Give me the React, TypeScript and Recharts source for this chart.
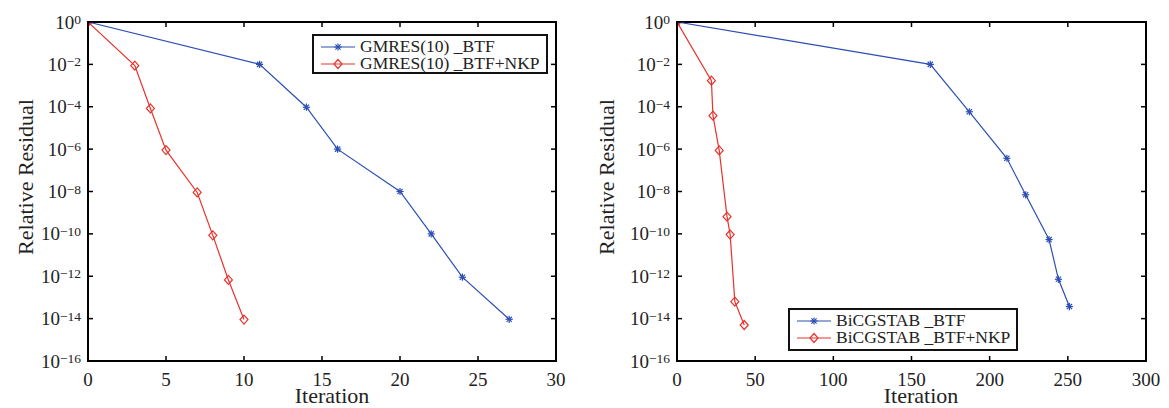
import React from 'react';
import { LineChart, Line, XAxis, YAxis, Legend } from 'recharts';

// GMRES(10) panel
const GM_BTF_ITER = [0, 11, 14, 16, 20, 22, 24, 27];
const GM_BTF_RES = [1, 1e-2, 9.5e-5, 1e-6, 1e-8, 1e-10, 9e-13, 9.3e-15];
const GM_NKP_ITER = [0, 3, 4, 5, 7, 8, 9, 10];
const GM_NKP_RES = [1, 8.7e-3, 8.3e-5, 9e-7, 9e-9, 8.5e-11, 6.7e-13, 9e-15];

// BiCGSTAB panel
const BI_BTF_ITER = [0, 162, 187, 211, 223, 238, 244, 251];
const BI_BTF_RES = [1, 1e-2, 5.8e-5, 3.7e-7, 7e-9, 5.4e-11, 7.2e-13, 3.7e-14];
const BI_NKP_ITER = [0, 22, 23, 27, 32, 34, 37, 43];
const BI_NKP_RES = [1, 1.7e-3, 3.8e-5, 8.7e-7, 6.5e-10, 9.3e-11, 6.3e-14, 5e-15];

const Y_TICKS = [1e-16, 1e-14, 1e-12, 1e-10, 1e-8, 1e-6, 1e-4, 1e-2, 1];
const GM_X_TICKS = [0, 5, 10, 15, 20, 25, 30];
const BI_X_TICKS = [0, 50, 100, 150, 200, 250, 300];

const BLUE = '#2c4fb3';
const RED = '#e8322a';
const INK = '#222';
const FONT = '"Liberation Serif", "Times New Roman", serif';
const TICK_LEN = 5;

// layout of each panel
const W = 580;
const H = 408;
const M_TOP = 22;
const M_BOTTOM = 47;
const M_LEFT = 88;
const PLOT_H = H - M_TOP - M_BOTTOM;
const FRAME = 2;

const toPoints = (xs: number[], ys: number[]) => xs.map((x, i) => ({ x, y: ys[i] }));

function StarDot(props: any) {
  const { cx, cy, index } = props;
  if (cx == null || cy == null) return null;
  const r = 3.6;
  const d = r * 0.72;
  return (
    <g key={`s${index}`} stroke={BLUE} strokeWidth={1.2}>
      <line x1={cx - r} y1={cy} x2={cx + r} y2={cy} />
      <line x1={cx} y1={cy - r} x2={cx} y2={cy + r} />
      <line x1={cx - d} y1={cy - d} x2={cx + d} y2={cy + d} />
      <line x1={cx - d} y1={cy + d} x2={cx + d} y2={cy - d} />
    </g>
  );
}

function DiamondDot(props: any) {
  const { cx, cy, index } = props;
  if (cx == null || cy == null) return null;
  const w = 4;
  const h = 4.5;
  return (
    <polygon
      key={`d${index}`}
      points={`${cx},${cy - h} ${cx + w},${cy} ${cx},${cy + h} ${cx - w},${cy}`}
      fill="none"
      stroke={RED}
      strokeWidth={1.2}
    />
  );
}

// y ticks: (x, y) sits on the left axis line; inward marks on the left and right edges
function YTick(props: any) {
  const { x, y, payload, plotSpan } = props;
  const e = Math.round(Math.log10(payload.value));
  const span = Number(plotSpan) || 468;
  return (
    <g>
      <line x1={x} y1={y} x2={x + TICK_LEN} y2={y} stroke="#000" strokeWidth={1.5} />
      <line x1={x + span} y1={y} x2={x + span - TICK_LEN} y2={y} stroke="#000" strokeWidth={1.5} />
      <text x={x - 7} y={y + 6.5} textAnchor="end" fontFamily={FONT} fontSize={19} fill={INK}>
        <tspan>10</tspan>
        <tspan fontSize={13.5} dy={-4.5}>{e === 0 ? '0' : `\u2212${-e}`}</tspan>
      </text>
    </g>
  );
}

// x ticks: (x, y) sits on the bottom axis line; inward marks on the bottom and top edges
function XTick(props: any) {
  const { x, y, payload } = props;
  return (
    <g>
      <line x1={x} y1={y} x2={x} y2={y - TICK_LEN} stroke="#000" strokeWidth={1.5} />
      <line x1={x} y1={y - PLOT_H} x2={x} y2={y - PLOT_H + TICK_LEN} stroke="#000" strokeWidth={1.5} />
      <text x={x} y={y + 25} textAnchor="middle" fontFamily={FONT} fontSize={19} fill={INK}>
        {payload.value}
      </text>
    </g>
  );
}

// axis title placed at fixed local coords (ignores props injected by recharts)
function AxisTitle({ tx, ty, turn, text }: { tx: number; ty: number; turn?: boolean; text: string }) {
  return (
    <text
      x={tx}
      y={ty}
      transform={turn ? `rotate(-90, ${tx}, ${ty})` : undefined}
      textAnchor="middle"
      fontFamily={FONT}
      fontSize={22}
      fill={INK}
    >
      {text}
    </text>
  );
}

function LegendBox(props: any) {
  const { payload, boxWidth, boxHeight } = props;
  return (
    <div
      style={{
        width: boxWidth,
        height: boxHeight,
        boxSizing: 'border-box',
        border: '2px solid #111',
        background: '#fff',
        padding: '2px 0 0 6px',
        fontFamily: FONT,
        fontSize: 17.5,
        color: INK,
        lineHeight: '17px',
      }}
    >
      {(payload || []).map((entry: any, i: number) => {
        const star = entry.color === BLUE;
        return (
          <div key={i} style={{ display: 'flex', alignItems: 'center', height: 17, whiteSpace: 'pre' }}>
            <svg width={36} height={12} style={{ marginRight: 4 }}>
              <line x1={1} y1={6} x2={35} y2={6} stroke={entry.color} strokeWidth={1.2} />
              {star ? <StarDot cx={18} cy={6} index={0} /> : <DiamondDot cx={18} cy={6} index={0} />}
            </svg>
            <span>{entry.value}</span>
          </div>
        );
      })}
    </div>
  );
}

type PanelProps = {
  left: number;
  xMax: number;
  xTicks: number[];
  btf: { x: number; y: number }[];
  nkp: { x: number; y: number }[];
  btfName: string;
  nkpName: string;
  legendPos: { left: number; top: number; width: number; height: number };
  yLabelX: number;
  marginRight: number;
};

function Panel(p: PanelProps) {
  const axisLine = { stroke: '#000', strokeWidth: 2 };
  const plotW = W - M_LEFT - p.marginRight;
  return (
    <div style={{ position: 'absolute', left: p.left, top: 0, width: W, height: H }}>
      {/* box around the plot area (top and right edges) */}
      <div
        style={{
          position: 'absolute',
          left: M_LEFT - FRAME / 2,
          top: M_TOP - FRAME / 2,
          width: plotW + FRAME,
          height: PLOT_H + FRAME,
          boxSizing: 'border-box',
          border: `${FRAME}px solid #000`,
          pointerEvents: 'none',
        }}
      />
      <LineChart width={W} height={H} margin={{ top: M_TOP, right: p.marginRight, bottom: M_BOTTOM - 30, left: M_LEFT - 60 }}>
        <XAxis
          type="number"
          dataKey="x"
          domain={[0, p.xMax]}
          ticks={p.xTicks}
          interval={0}
          allowDataOverflow
          height={30}
          tickSize={0}
          tickMargin={0}
          tickLine={false}
          tick={<XTick />}
          axisLine={axisLine}
          label={<AxisTitle tx={332} ty={403} text="Iteration" />}
        />
        <YAxis
          type="number"
          scale="log"
          domain={[1e-16, 1]}
          ticks={Y_TICKS}
          interval={0}
          allowDataOverflow
          width={60}
          tickSize={0}
          tickMargin={0}
          tickLine={false}
          tick={<YTick plotSpan={plotW} />}
          axisLine={axisLine}
          label={<AxisTitle tx={p.yLabelX} ty={177} turn text="Relative Residual" />}
        />
        <Legend
          layout="horizontal"
          verticalAlign="middle"
          align="center"
          wrapperStyle={{ left: p.legendPos.left, top: p.legendPos.top, width: p.legendPos.width, height: p.legendPos.height }}
          content={(lp: any) => (
            <LegendBox payload={lp.payload} boxWidth={p.legendPos.width} boxHeight={p.legendPos.height} />
          )}
        />
        <Line
          data={p.btf}
          dataKey="y"
          name={p.btfName}
          stroke={BLUE}
          strokeWidth={1.2}
          dot={(dp: any) => <StarDot {...dp} key={`s${dp.index}`} />}
          activeDot={false}
          isAnimationActive={false}
        />
        <Line
          data={p.nkp}
          dataKey="y"
          name={p.nkpName}
          stroke={RED}
          strokeWidth={1.2}
          dot={(dp: any) => <DiamondDot {...dp} key={`d${dp.index}`} />}
          activeDot={false}
          isAnimationActive={false}
        />
      </LineChart>
    </div>
  );
}

export default function App() {
  return (
    <div style={{ position: 'absolute', left: 0, top: 0, width: 1169, height: 408, background: '#fff' }}>
      <Panel
        left={0}
        xMax={30}
        xTicks={GM_X_TICKS}
        btf={toPoints(GM_BTF_ITER, GM_BTF_RES)}
        nkp={toPoints(GM_NKP_ITER, GM_NKP_RES)}
        btfName="GMRES(10) _BTF"
        nkpName="GMRES(10) _BTF+NKP"
        legendPos={{ left: 312, top: 34, width: 236, height: 40 }}
        yLabelX={33}
        marginRight={24}
      />
      <Panel
        left={589}
        xMax={300}
        xTicks={BI_X_TICKS}
        btf={toPoints(BI_BTF_ITER, BI_BTF_RES)}
        nkp={toPoints(BI_NKP_ITER, BI_NKP_RES)}
        btfName="BiCGSTAB _BTF"
        nkpName="BiCGSTAB _BTF+NKP"
        legendPos={{ left: 199, top: 308, width: 230, height: 43 }}
        yLabelX={25}
        marginRight={23}
      />
    </div>
  );
}
